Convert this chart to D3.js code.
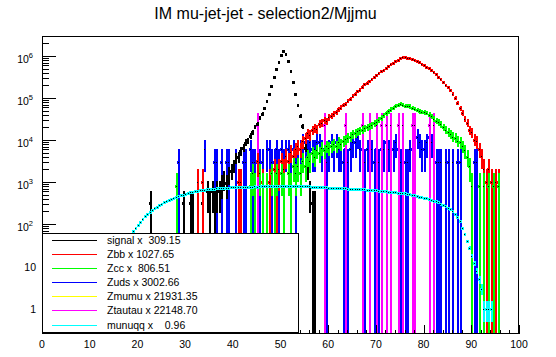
<!DOCTYPE html>
<html><head><meta charset="utf-8">
<script src="https://cdn.jsdelivr.net/npm/d3@7"></script>
<style>
body{margin:0;background:#fff}
svg{display:block}
text{font-family:"Liberation Sans",Arial,Helvetica,sans-serif;fill:#000}
</style>
</head><body>
<svg id="c" width="556" height="357"></svg>
<script>
const title = "IM mu-jet-jet - selection2/Mjjmu";
const binWidth = 0.5;
const xTicks = [0,10,20,30,40,50,60,70,80,90,100];
const yDecades = [1,10,100,1000,10000,100000,1000000];

const seriesNames  = ["signal","Zbb","Zcc","Zuds","Zmumu","Ztautau","munuqq"];
const seriesColors = ["#000000","#ff0000","#00ff00","#0000ff","#ffff00","#ff00ff","#00ffff"];
const seriesScales = [309.15,1027.65,806.51,3002.66,21931.35,22148.70,0.96];
const legendLabels = ["signal x  309.15","Zbb x 1027.65","Zcc x  806.51","Zuds x 3002.66","Zmumu x 21931.35","Ztautau x 22148.70","munuqq x    0.96"];

// raw entries per 0.5-wide bin, starting at the given lower edge
const signalStart = 22.5;
const signalCounts = [1,0,0,0,0,0,0,0,0,0,0,0,0,0,1,0,0,1,1,0,1,0,1,0,2,1,2,1,2,2,3,4,3,5,6,8,12,13,18,21,28,31,41,50,66,78,107,138,188,268,402,615,1003,1548,2310,3390,4310,3705,2395,1402,795,404,218,121,68,21,6,2,1,1];

const zbbStart = 32.5;
const zbbCounts = [1,0,1,0,0,0,0,0,0,0,0,0,0,0,0,0,0,1,1,0,0,0,0,0,0,3,0,1,0,0,1,0,2,1,2,3,2,4,3,5,4,6,7,6,9,11,14,13,17,19,18,24,25,29,28,34,37,41,44,53,57,66,71,83,94,111,124,141,153,181,204,226,248,282,309,352,388,431,462,508,562,618,672,728,791,858,921,902,878,861,828,792,738,691,628,592,538,491,442,398,361,308,272,233,201,174,151,124,98,76,55,43,31,25,17,15,10,9,6,4,2,1,2,1,0,1,1];

const zccStart = 28.0;
const zccCounts = [1,0,0,0,0,0,0,0,0,0,0,0,0,0,0,0,0,0,0,0,0,0,0,0,0,0,0,0,0,0,0,1,2,1,0,2,1,0,1,0,2,1,2,0,2,1,0,2,1,3,2,3,2,4,3,5,4,6,5,7,6,8,7,9,8,9,10,9,11,10,12,13,14,15,17,18,20,21,22,24,25,26,28,31,34,38,42,48,54,60,66,72,80,86,88,85,82,80,78,72,68,64,60,58,56,55,50,46,40,36,33,30,25,22,19,17,15,14,12,11,9,7,5,3,1,0,0,1,0,1,0,1,0,1,0,1];

const zudsStart = 28.5;
const zudsCounts = [1,0,0,0,0,0,0,0,0,0,0,2,0,0,0,1,1,0,1,0,1,1,0,0,1,0,0,1,1,0,2,1,1,1,1,1,0,2,2,1,1,2,1,2,1,2,2,1,2,1,2,2,3,3,2,3,2,2,3,3,2,2,1,2,3,2,3,2,2,1,2,1,2,3,3,4,2,2,1,2,1,2,1,2,1,2,2,3,2,2,2,3,2,1,2,1,1,2,2,3,4,3,2,2,3,4,3,1,1,1,1,0,1,1,0,1,0,1,1,0,0,0,0,0,1,1];

const zmumuStart = 0;
const zmumuCounts = [];

const ztautauEdges  = [45.0,59.0,63.5,67.0,68.5,70.0,71.0,72.0,73.0,74.5,75.5,77.5,78.0,81.0,82.0];
const ztautauCounts = [1,1,1,1,1,1,1,1,1,1,1,1,1,1,1];

const munuqqStart = 11.0;
const munuqqCounts = [1,0,1,2,1,3,4,6,9,12,16,22,30,38,48,58,72,85,100,118,135,158,180,205,225,245,270,292,315,340,370,395,415,440,460,480,505,520,545,565,590,605,620,640,655,670,680,695,705,715,725,735,740,750,755,760,770,775,780,780,790,795,790,800,805,800,810,815,810,820,825,820,830,825,835,830,840,835,840,845,840,845,850,845,840,845,840,835,830,825,820,810,805,800,795,790,780,775,770,765,760,750,745,740,735,730,725,720,715,710,705,700,700,695,690,680,675,665,655,650,640,630,625,615,605,600,590,585,575,565,555,545,535,520,505,490,470,455,440,425,410,395,375,360,340,320,300,275,255,235,210,185,155,120,85,60,40,28,18,12,8,5,3,1,1,1,1];
const munuqqErrWeight = 0.25;

// ---------------------------------------------------------------
const svg = d3.select("#c");
const X0 = 42, X1 = 519, Y0 = 36, Y1 = 334;
const x = d3.scaleLinear().domain([0,100]).range([X0,X1]);
const y = d3.scaleLog().domain([1,1e6]).range([308,56]);
const yMin = y.invert(Y1), yMax = y.invert(Y0);

const dense  = (start, counts) => counts.map((n,i)=>({lo:start+i*binWidth, n})).filter(d=>d.n>0);
const sparse = (edges, counts) => edges.map((lo,i)=>({lo, n:counts[i]})).filter(d=>d.n>0);

const binsByName = {
  signal: dense(signalStart, signalCounts),
  Zbb: dense(zbbStart, zbbCounts),
  Zcc: dense(zccStart, zccCounts),
  Zuds: dense(zudsStart, zudsCounts),
  Zmumu: dense(zmumuStart, zmumuCounts),
  Ztautau: sparse(ztautauEdges, ztautauCounts),
  munuqq: dense(munuqqStart, munuqqCounts)
};
const series = seriesNames.map((name,i)=>({
  name, color: seriesColors[i], scale: seriesScales[i],
  errW: name === "munuqq" ? munuqqErrWeight : seriesScales[i],
  bins: binsByName[name]
}));
const drawOrder = ["Zuds","Zmumu","Ztautau","signal","Zbb","Zcc","munuqq"];

// title
svg.append("text").attr("x",265.5).attr("y",19).attr("text-anchor","middle")
  .style("font-size","16px").text(title);

svg.append("defs").append("clipPath").attr("id","frameClip")
  .append("rect").attr("x",X0).attr("y",Y0).attr("width",X1-X0).attr("height",Y1-Y0);

const plot = svg.append("g").attr("clip-path","url(#frameClip)").attr("shape-rendering","crispEdges");
const clampY = v => Math.max(Y0, Math.min(Y1, v));

drawOrder.forEach(name => {
  const s = series.find(d=>d.name===name);
  const g = plot.append("g");
  s.bins.forEach(b => {
    const v = b.n * s.scale;
    const e = Math.sqrt(v * s.errW);
    const xc = Math.round(x(b.lo + binWidth/2));
    const xa = x(b.lo), xb = x(b.lo + binWidth);
    const yv = Math.round(y(v));
    const yt = Math.min(Math.round(clampY(y(v + e))), yv - 1);
    const yb = Math.max((v - e) > yMin ? Math.round(clampY(y(v - e))) : Y1, yv + 2);
    g.append("rect").attr("x",xc-1).attr("y",yt).attr("width",2)
      .attr("height",yb-yt).attr("fill",s.color);
    g.append("rect").attr("x",Math.floor(xa)).attr("y",yv-1).attr("width",Math.max(2,Math.round(xb-xa)))
      .attr("height",3).attr("fill",s.color);
  });
  s.bins.forEach(b => {
    const v = b.n * s.scale;
    const xc = Math.round(x(b.lo + binWidth/2));
    g.append("rect").attr("x",xc-1).attr("y",Math.round(y(v))).attr("width",1).attr("height",1).attr("fill","#000");
  });
});

// frame
svg.append("rect").attr("x",X0+0.5).attr("y",Y0+0.5).attr("width",X1-X0-1).attr("height",Y1-Y0-1)
  .attr("fill","none").attr("stroke","#000").attr("stroke-width",1);

// x axis ticks (inside)
const axes = svg.append("g").attr("shape-rendering","crispEdges");
const xMinor = d3.range(0,101,2);
xMinor.forEach(t => {
  const major = t % 10 === 0;
  const px = Math.round(x(t)) + 0.5;
  axes.append("line").attr("x1",px).attr("x2",px).attr("y1",Y1).attr("y2",Y1 - (major?9:4.5)).attr("stroke","#000");
});
xTicks.forEach(t => {
  svg.append("text").attr("x",x(t)).attr("y",348).attr("text-anchor","middle").style("font-size","10.5px").text(t);
});

// y axis ticks
for (let m=-1; m<=6; m++) {
  for (let k=1; k<=9; k++) {
    const v = k*Math.pow(10,m);
    if (v < yMin || v > yMax) continue;
    const py = Math.round(y(v)) + 0.5;
    axes.append("line").attr("x1",X0).attr("x2",X0 + (k===1?14:7)).attr("y1",py).attr("y2",py).attr("stroke","#000");
  }
}
yDecades.forEach(v => {
  const e = Math.round(Math.log10(v));
  const py = y(v);
  if (e >= 2) {
    const t = svg.append("text").attr("x",33).attr("y",py+6.5).attr("text-anchor","end").style("font-size","10.5px");
    t.append("tspan").text("10");
    t.append("tspan").attr("dy",-5).style("font-size","7.5px").text(e);
  } else {
    svg.append("text").attr("x",36).attr("y",py+4.5).attr("text-anchor","end").style("font-size","10.5px").text(v);
  }
});

// legend
const lg = svg.append("g");
lg.append("rect").attr("x",42.5).attr("y",233.5).attr("width",256).attr("height",99)
  .attr("fill","#fff").attr("stroke","#000").attr("shape-rendering","crispEdges");
const rowY = d3.scaleLinear().domain([0,6]).range([240,324.5]);
series.forEach((s,i) => {
  const ry = Math.round(rowY(i)) + 0.5;
  lg.append("line").attr("x1",52).attr("x2",97).attr("y1",ry).attr("y2",ry)
    .attr("stroke",s.color).attr("stroke-width",1).attr("shape-rendering","crispEdges");
  lg.append("text").attr("x",107).attr("y",rowY(i)+4).style("font-size","10.5px")
    .style("white-space","pre").attr("xml:space","preserve").text(legendLabels[i]);
});
</script>
</body></html>
